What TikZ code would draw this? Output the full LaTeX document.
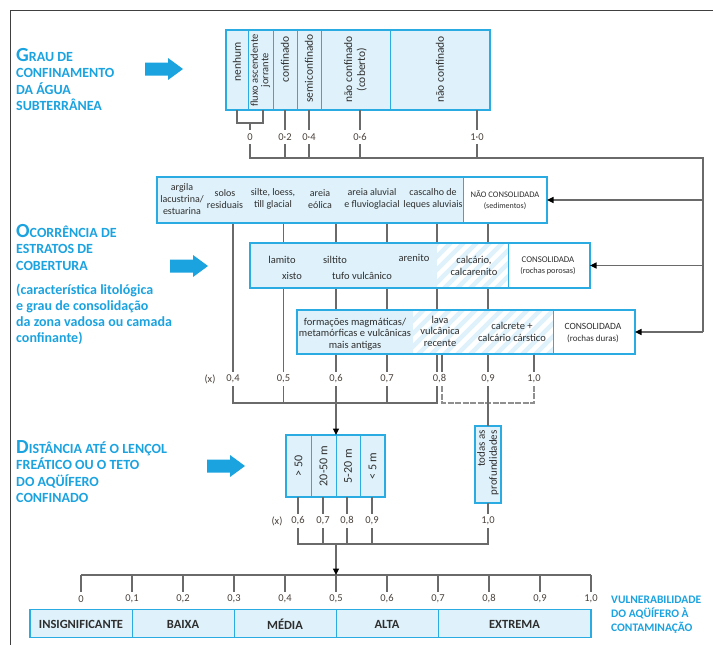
\documentclass[tikz,border=0pt]{standalone}
\usepackage{fontspec}
\setmainfont{Carlito}
\usetikzlibrary{arrows.meta}
\definecolor{cyanb}{HTML}{2AACE2}
\definecolor{lblue}{HTML}{DFF2FB}
\definecolor{tblue}{HTML}{1BA3E0}
\definecolor{lgray}{HTML}{6A6A6A}
\definecolor{txt}{HTML}{2E2E2E}
\definecolor{numc}{HTML}{4A423C}
\begin{document}
\begin{tikzpicture}[x=1pt,y=-1pt,
 conn/.style={draw=lgray,line width=1.1pt},
 dconn/.style={draw=lgray!75,line width=1.1pt,dash pattern=on 6pt off 1.5pt},
 tip/.style={-{Triangle[length=6.5pt,width=6pt,color=black]}},
 frameb/.style={draw=cyanb,line width=1.6pt},
 divb/.style={draw=cyanb,line width=1pt},
 boxnode/.style={inner sep=0pt,outer sep=0pt},
 ta/.style={font=\fontsize{10.5}{12}\selectfont,text=txt,align=center,inner sep=0pt},
 tsa/.style={font=\fontsize{8.5}{11}\selectfont,text=txt,align=center,inner sep=0pt},
 rt/.style={rotate=90,font=\fontsize{11.5}{11}\selectfont,text=txt,align=center,inner sep=0pt},
 num/.style={font=\fontsize{10.5}{11}\selectfont,text=numc,inner sep=0pt,minimum height=14pt},
 ttl/.style={anchor=north west,font=\bfseries\fontsize{14}{16.5}\selectfont,text=tblue,align=left,inner sep=0pt},
 barl/.style={font=\bfseries\fontsize{12.5}{13}\selectfont,text=txt,inner sep=0pt},
 stripe/.style={draw=white,line width=4.5pt},
]
\useasboundingbox (0,0) rectangle (713,645);
\fill[white] (0,0) rectangle (713,645);
\draw[black!75,line width=0.8pt] (10,645) -- (10,10) -- (713,10);

% ---------- titles ----------
\node[ttl] (t1) at (16,48) {{\fontsize{20}{16}\selectfont G}RAU DE\\CONFINAMENTO\\DA ÁGUA\\SUBTERRÂNEA};
\node[ttl] (t2) at (16,224) {{\fontsize{20}{16}\selectfont O}CORRÊNCIA DE\\ESTRATOS DE\\COBERTURA};
\node[ttl,font=\bfseries\fontsize{14}{16}\selectfont] (t2b) at (16,284) {(característica litológica\\e grau de consolidação\\da zona vadosa ou camada\\confinante)};
\node[ttl] (t3) at (16,440) {{\fontsize{20}{16}\selectfont D}ISTÂNCIA ATÉ O LENÇOL\\FREÁTICO OU O TETO\\DO AQÜÍFERO\\CONFINADO};

\begin{scope}[shift={(145,69)}]
\fill[tblue] (0,-6.5) -- (23,-6.5) -- (23,-11) -- (38,0) -- (23,11) -- (23,6.5) -- (0,6.5) -- cycle;
\end{scope}
\begin{scope}[shift={(170,266)}]
\fill[tblue] (0,-6.5) -- (23,-6.5) -- (23,-11) -- (38,0) -- (23,11) -- (23,6.5) -- (0,6.5) -- cycle;
\end{scope}
\begin{scope}[shift={(207,466)}]
\fill[tblue] (0,-6.5) -- (23,-6.5) -- (23,-11) -- (38,0) -- (23,11) -- (23,6.5) -- (0,6.5) -- cycle;
\end{scope}

% ---------- section 1 ----------
\node[boxnode,fill=lblue,minimum width=264pt,minimum height=80pt] (boxG) at (358,70) {};
\foreach \x in {248,273,297,321,390} \draw[divb] (\x,30) -- (\x,110);
\draw[frameb] (boxG.north west) rectangle (boxG.south east);
\node[rt,anchor=east] at (237,42) {nenhum};
\node[rt,anchor=east,font=\fontsize{10.5}{10.5}\selectfont] at (260.5,34) {fluxo ascendente\\jorrante};
\node[rt,anchor=east] at (285,36) {confinado};
\node[rt,anchor=east] at (309,34) {semiconfinado};
\node[rt,anchor=east,font=\fontsize{11.5}{13}\selectfont] at (355.5,36) {não confinado\\(coberto)};
\node[rt,anchor=east] at (440,36) {não confinado};

\node[num] (g0) at (250,137) {0};
\node[num] (g2) at (285,137) {0·2};
\node[num] (g4) at (309,137) {0·4};
\node[num] (g6) at (360,137) {0·6};
\node[num] (g10) at (477,137) {1·0};
\coordinate (rt) at (703,158);
\draw[conn] (237,110) -- (237,123) -- (263,123) -- (263,110);
\draw[conn] (g0.north |- 0,123) -- (g0.north);
\foreach \n in {g2,g4,g6,g10} \draw[conn] (\n.north |- boxG.south) -- (\n.north);
\foreach \n in {g2,g4,g6,g10} \draw[conn] (\n.south) -- (\n.south |- rt);

% ---------- section 2 ----------
\node[num] (vx) at (210,379) {(x)};
\node[num] (v04) at (233,379) {0,4};
\node[num] (v05) at (283.5,379) {0,5};
\node[num] (v06) at (336,379) {0,6};
\node[num] (v07) at (387,379) {0,7};
\node[num] (v08) at (439.5,379) {0,8};
\node[num] (v09) at (488,379) {0,9};
\node[num] (v10) at (534,379) {1,0};
\coordinate (v08l) at (437,379);
\coordinate (v08r) at (442,379);
\coordinate (lb) at (0,403);

% lines behind the boxes
\path (352,200) coordinate (cA) (420,265.5) coordinate (cB) (466,332) coordinate (cC);
\draw[conn] (v04.north |- 0,223) -- (v04.north);
\draw[conn] (v05.north |- 0,223) -- (v05.north);
\draw[conn] (v06.north |- 0,223) -- (v06.north);
\draw[conn] (v07.north |- 0,223) -- (v07.north);
\draw[conn] (v08l |- 0,223) -- (v08l |- v08.north);
\draw[conn] (v08r |- 0,354) -- (v08r |- v08.north);
\draw[conn] (v09.north |- 0,223) -- (v09.north);
\draw[conn] (v10.north |- 0,354) -- (v10.north);

% box A
\node[boxnode,fill=white,minimum width=390pt,minimum height=46pt] (boxA) at (cA) {};
\fill[lblue] (boxA.north west) rectangle (463,223);
\draw[divb] (463,177) -- (463,223);
\draw[frameb] (boxA.north west) rectangle (boxA.south east);
\begin{scope}[every node/.style={ta,font=\fontsize{10}{12}\selectfont}]
\node at (182,199.5) {argila\\lacustrina/\\estuarina};
\node at (225,199) {solos\\residuais};
\node at (273,199) {silte, loess,\\till glacial};
\node at (320,199) {areia\\eólica};
\node at (372,199) {areia aluvial\\e fluvioglacial};
\node at (433,199) {cascalho de\\leques aluviais};
\end{scope}
\node[tsa] at (505,200) {NÃO CONSOLIDADA\\{\fontsize{8}{9}\selectfont(sedimentos)}};

% box B
\node[boxnode,fill=white,minimum width=340pt,minimum height=45pt] (boxB) at (cB) {};
\fill[lblue] (boxB.north west) rectangle (508,288);
\begin{scope}
\clip (437,243) rectangle (508,288);
\foreach \k in {0,...,11} \draw[stripe] (378+\k*13,296) -- ++(70,-70);
\end{scope}
\draw[divb] (508,243) -- (508,288);
\draw[frameb] (boxB.north west) rectangle (boxB.south east);
\node[ta] at (282,260) {lamito};
\node[ta] at (292,276) {xisto};
\node[ta] at (335,260) {siltito};
\node[ta] at (362,276) {tufo vulcânico};
\node[ta] at (414,258) {arenito};
\node[ta] at (474,266) {calcário,\\calcarenito};
\node[tsa,font=\fontsize{8.8}{11}\selectfont] at (548,266) {CONSOLIDADA\\{\fontsize{8.3}{9}\selectfont(rochas porosas)}};

% box C
\node[boxnode,fill=white,minimum width=338pt,minimum height=44pt] (boxC) at (cC) {};
\fill[lblue] (boxC.north west) rectangle (553,354);
\begin{scope}
\clip (413,310) rectangle (553,354);
\foreach \k in {0,...,16} \draw[stripe] (352+\k*13,362) -- ++(70,-70);
\end{scope}
\draw[divb] (553,310) -- (553,354);
\draw[frameb] (boxC.north west) rectangle (boxC.south east);
\node[ta,font=\fontsize{10.5}{11.5}\selectfont] at (355,334) {formações magmáticas/\\metamórficas e vulcânicas\\mais antigas};
\node[ta,font=\fontsize{10.5}{11.5}\selectfont] at (440,331) {lava\\vulcânica\\recente};
\node[ta] at (512,332) {calcrete +\\calcário cárstico};
\node[tsa,font=\fontsize{9.5}{11.5}\selectfont] at (593,333) {CONSOLIDADA\\{\fontsize{9}{10}\selectfont(rochas duras)}};

% feedback from grade 1.0
\draw[conn] (g0.south) |- (rt) -- (rt |- boxC.east);
\draw[conn,tip] (rt |- boxA.east) -- (boxA.east);
\draw[conn,tip] (rt |- boxB.east) -- (boxB.east);
\draw[conn,tip] (rt |- boxC.east) -- (boxC.east);

% ---------- section 3 ----------
\node[boxnode,fill=lblue,minimum width=99pt,minimum height=62pt] (boxD) at (335.5,466) {};
\foreach \x in {311,336,360} \draw[divb] (\x,435) -- (\x,497);
\draw[frameb] (boxD.north west) rectangle (boxD.south east);
\node[rt,font=\fontsize{12}{12}\selectfont] at (298.5,466) {> 50};
\node[rt,font=\fontsize{12}{12}\selectfont] at (323.5,466) {20-50 m};
\node[rt,font=\fontsize{12}{12}\selectfont] at (348,466) {5-20 m};
\node[rt,font=\fontsize{12}{12}\selectfont] at (372.5,466) {< 5 m};

\node[boxnode,fill=lblue,minimum width=26pt,minimum height=77pt] (boxT) at (488,464.5) {};
\draw[frameb] (boxT.north west) rectangle (boxT.south east);
\node[rt,anchor=east,align=right,font=\fontsize{11}{12}\selectfont] at (488,430) {todas as\\profundidades};

% grouping below section 2
\draw[conn] (v04.south) |- (v08l |- lb) -- (v08l |- v08.south);
\foreach \n in {v05,v07} \draw[conn] (\n.south) -- (\n.south |- lb);
\draw[dconn] (v08r |- v08.south) |- (v10.south |- lb) -- (v10.south);
\draw[conn] (v09.south) -- (boxT.north);
\draw[conn,tip] (v06.south) -- (v06.south |- boxD.north);

\node[num] (wx) at (277,521) {(x)};
\node[num] (w06) at (298,521) {0,6};
\node[num] (w07) at (323,521) {0,7};
\node[num] (w08) at (347,521) {0,8};
\node[num] (w09) at (372,521) {0,9};
\node[num] (w10) at (488,521) {1,0};
\coordinate (lc) at (0,544);
\foreach \n in {w06,w07,w08,w09} \draw[conn] (\n.north |- boxD.south) -- (\n.north);
\draw[conn] (boxT.south) -- (w10.north);
\draw[conn] (w06.south) |- (w10.south |- lc) -- (w10.south);
\foreach \n in {w07,w08,w09} \draw[conn] (\n.south) -- (\n.south |- lc);

% ---------- scale ----------
\coordinate (sl) at (0,575);
\foreach \i/\t in {0/0,1/{0,1},2/{0,2},3/{0,3},4/{0,4},5/{0,5},6/{0,6},7/{0,7},8/{0,8},9/{0,9},10/{1,0}}
  \node[num] (s\i) at (81+51*\i,599) {\t};
\draw[conn] (s0.north |- sl) -- (s10.north |- sl);
\foreach \i in {0,...,10} \draw[conn] (s\i.north |- sl) -- (s\i.north);
\draw[conn,tip] (336,544) -- (s5.north |- sl);

\node[boxnode,fill=lblue,minimum width=561pt,minimum height=28pt] (bar) at (310.5,623.5) {};
\foreach \x in {132,234,336,438} \draw[divb] (\x,609.5) -- (\x,637.5);
\draw[frameb] (bar.north west) rectangle (bar.south east);
\node[barl] at (81,624) {INSIGNIFICANTE};
\node[barl] at (183,624) {BAIXA};
\node[barl] at (285,624) {MÉDIA};
\node[barl] at (387,624) {ALTA};
\node[barl] at (514.5,624) {EXTREMA};

\node[anchor=west,align=left,inner sep=0pt,text=tblue,font=\bfseries\fontsize{11.5}{14}\selectfont] at (611,615) {VULNERABILIDADE\\DO AQÜÍFERO À\\CONTAMINAÇÃO};
\end{tikzpicture}
\end{document}
